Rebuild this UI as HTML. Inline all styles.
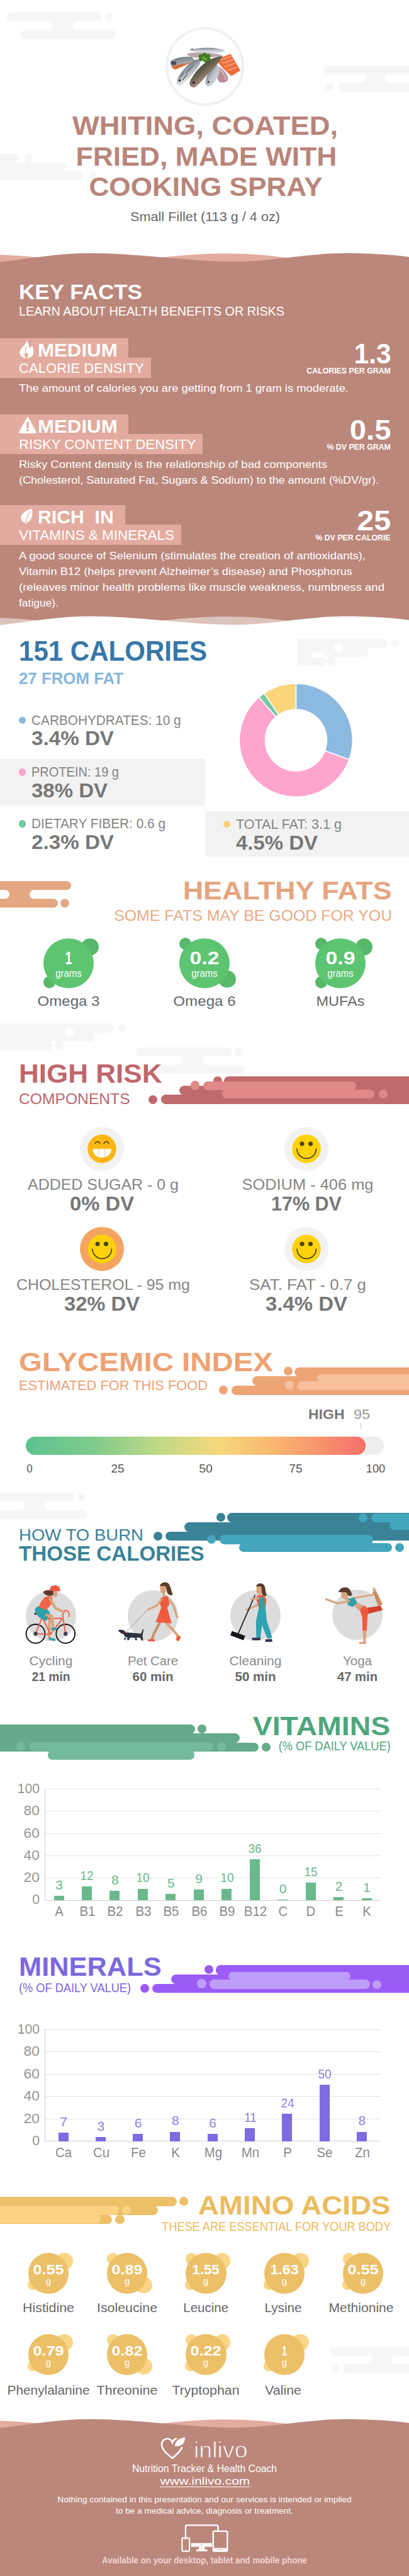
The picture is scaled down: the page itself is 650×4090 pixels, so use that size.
<!DOCTYPE html>
<html><head><meta charset="utf-8"><title>Whiting infographic</title>
<style>
html,body{margin:0;padding:0;background:#fff;}
body{width:650px;height:4090px;font-family:"Liberation Sans",sans-serif;}
#pg{position:relative;width:650px;height:4090px;overflow:hidden;background:#fff;}
.t{position:absolute;white-space:nowrap;}
.b{position:absolute;}
</style></head><body><div id="pg">
<svg class="b" style="left:0px;top:20.4px;" width="650" height="43" viewBox="0 0 650 43"><rect x="10.8" y="0.0" width="150.6" height="14.0" rx="6.8" fill="#f6f6f6"/><rect x="32.3" y="27.4" width="151.7" height="14.0" rx="6.8" fill="#f6f6f6"/><path d="M76.6,13.2 A6.8,7.3 0 0 1 76.6,27.9 L122.5,27.9 A6.8,7.3 0 0 1 122.5,13.2Z" fill="#f6f6f6"/><circle cx="173.2" cy="6.8" r="6.5" fill="#f6f6f6"/></svg>
<svg class="b" style="left:0px;top:104.2px;" width="650" height="43" viewBox="0 0 650 43"><rect x="514.5" y="0.0" width="185.5" height="14.0" rx="6.8" fill="#f6f6f6"/><rect x="536.5" y="27.4" width="163.5" height="14.0" rx="6.8" fill="#f6f6f6"/><path d="M574.9,13.2 A6.8,7.3 0 0 1 574.9,27.9 L618.6,27.9 A6.8,7.3 0 0 1 618.6,13.2Z" fill="#f6f6f6"/><circle cx="523.6" cy="34.2" r="6.5" fill="#f6f6f6"/></svg>
<svg class="b" style="left:0px;top:244px;" width="650" height="43" viewBox="0 0 650 43"><rect x="-20.0" y="0.0" width="49.6" height="14.0" rx="6.8" fill="#f6f6f6"/><rect x="-20.0" y="13.7" width="125.0" height="14.0" rx="6.8" fill="#f6f6f6"/><rect x="-20.0" y="27.4" width="150.7" height="14.0" rx="6.8" fill="#f6f6f6"/><circle cx="45.7" cy="6.8" r="6.5" fill="#f6f6f6"/><circle cx="148.0" cy="34.2" r="6.5" fill="#f6f6f6"/></svg>
<div class="b" style="left:262.6px;top:42.8px;width:125.2px;height:125.2px;background:#f0f0f0;border-radius:50%;"></div>
<div class="b" style="left:266.8px;top:47.0px;width:116.8px;height:116.8px;background:#ffffff;border-radius:50%;"></div>
<svg class="b" style="left:265px;top:65px" width="120" height="85.1" viewBox="0 0 409 290">
<defs>
<linearGradient id="fa" x1="0" y1="0" x2="0" y2="1"><stop offset="0" stop-color="#7b8792"/><stop offset="0.5" stop-color="#c5ccd2"/><stop offset="1" stop-color="#f2f3f4"/></linearGradient>
<linearGradient id="fb" x1="0.2" y1="0" x2="0.8" y2="1"><stop offset="0" stop-color="#3e444b"/><stop offset="0.35" stop-color="#8b939b"/><stop offset="0.7" stop-color="#e4e7ea"/><stop offset="1" stop-color="#f4f4f4"/></linearGradient>
<linearGradient id="fc" x1="0.1" y1="0" x2="0.9" y2="1"><stop offset="0" stop-color="#2c2b22"/><stop offset="0.4" stop-color="#5d5a47"/><stop offset="0.7" stop-color="#b79488"/><stop offset="1" stop-color="#2f3030"/></linearGradient>
<linearGradient id="fd" x1="0" y1="0" x2="0.3" y2="1"><stop offset="0" stop-color="#6a7077"/><stop offset="0.6" stop-color="#a3a8ad"/><stop offset="0.72" stop-color="#d9653a"/><stop offset="1" stop-color="#e5774a"/></linearGradient>
<linearGradient id="fe" x1="0" y1="0" x2="1" y2="1"><stop offset="0" stop-color="#32373e"/><stop offset="0.5" stop-color="#b9bfc6"/><stop offset="1" stop-color="#eceef0"/></linearGradient>
</defs>
<path d="M125 48 C170 34 260 30 318 52 C300 68 230 72 180 66 C160 64 140 58 125 48Z" fill="url(#fa)"/>
<path d="M125 48 L138 40 L150 50Z" fill="#6b7680"/>
<path d="M108 70 C150 58 240 62 302 76 C270 92 170 94 140 88 C125 84 112 78 108 70Z" fill="#b7a3a6"/>
<path d="M18 112 C40 92 90 82 136 86 L152 106 C130 122 80 140 46 156 C30 150 20 134 18 112Z" fill="url(#fd)"/>
<ellipse cx="38" cy="120" rx="14" ry="10" fill="#454a50"/>
<path d="M276 96 L346 70 L399 160 L350 190 L306 150 L282 122Z" fill="#ee6f3d"/>
<path d="M290 104 L350 84 M298 122 L364 100 M312 140 L376 118 M330 160 L388 138" stroke="#f6a27c" stroke-width="6"/>
<path d="M268 138 C300 140 330 180 332 206 C328 226 300 228 284 222 C270 200 262 166 268 138Z" fill="#b98d96"/>
<path d="M280 150 C300 160 318 190 320 210" stroke="#d9c6cb" stroke-width="5" fill="none"/>
<path d="M210 226 C212 190 236 142 264 124 C290 134 290 170 274 196 C262 222 244 246 224 246 C214 242 210 234 210 226Z" fill="url(#fe)"/>
<path d="M124 226 C136 190 180 132 230 104 C260 88 285 82 302 80 C290 112 256 148 226 176 C200 204 176 236 150 252 C134 252 122 242 124 226Z" fill="url(#fc)"/>
<path d="M54 216 C64 180 110 126 152 104 C166 98 178 96 186 98 C186 124 160 160 132 190 C112 214 90 238 70 242 C58 240 52 230 54 216Z" fill="url(#fb)"/>
<path d="M70 200 L92 172 M86 212 L112 180 M104 176 L126 150 M120 160 L146 130" stroke="#555c64" stroke-width="4"/>
<circle cx="70" cy="214" r="6" fill="#1e2226"/><circle cx="146" cy="226" r="6" fill="#15171a"/><circle cx="226" cy="222" r="5" fill="#1e2226"/>
<path d="M176 92 C166 76 182 66 192 76 C194 60 214 58 216 74 C228 64 244 78 232 90 C246 96 238 112 224 106 C218 120 198 118 196 106 C184 112 170 104 176 92Z" fill="#3f7a22"/>
<path d="M190 90 C194 80 206 82 206 92 C216 86 224 96 216 102 C206 108 192 102 190 90Z" fill="#69a53a"/>
</svg>
<div class="t" style="left:-174.0px;width:1000px;text-align:center;transform-origin:50% 0;top:177.9px;font-size:43.0px;line-height:43.0px;color:#b9857a;font-weight:bold;transform:scaleX(1.0537);">WHITING, COATED,</div>
<div class="t" style="left:-172.5px;width:1000px;text-align:center;transform-origin:50% 0;top:226.9px;font-size:43.0px;line-height:43.0px;color:#b9857a;font-weight:bold;transform:scaleX(1.0341);">FRIED, MADE WITH</div>
<div class="t" style="left:-173.5px;width:1000px;text-align:center;transform-origin:50% 0;top:275.4px;font-size:43.0px;line-height:43.0px;color:#b9857a;font-weight:bold;transform:scaleX(1.0260);">COOKING SPRAY</div>
<div class="t" style="left:-174.0px;width:1000px;text-align:center;transform-origin:50% 0;top:334.0px;font-size:20.0px;line-height:20.0px;color:#666666;transform:scaleX(1.0832);">Small Fillet (113 g / 4 oz)</div>
<svg class="b" style="left:0px;top:395px;" width="650" height="30" viewBox="0 0 650 30"><path d="M0,9.5 C30,10.5 50,12.5 75,15 L75,25 L0,25Z M245,15 C290,9.5 330,7.399999999999977 360,7.399999999999977 C400,7.399999999999977 430,10.5 465,15.5 L465,25 L245,25Z" fill="#e3ab9f" fill-opacity="1"/><path d="M0,21 C50,15 95,7 145,7 C220,7 300,20.5 371,20.5 C430,20.5 490,7 548,7 C590,7 625,9.5 650,13 L650,30 L0,30Z" fill="#bb877b"/></svg>
<div class="b" style="left:0.0px;top:420.0px;width:650.0px;height:575.0px;background:#bb877b;"></div>
<div class="t" style="left:30.0px;transform-origin:0 0;top:447.4px;font-size:33.0px;line-height:33.0px;color:#fff;font-weight:bold;transform:scaleX(1.0617);">KEY FACTS</div>
<div class="t" style="left:30.0px;transform-origin:0 0;top:484.2px;font-size:20.5px;line-height:20.5px;color:#fff;transform:scaleX(0.9638);">LEARN ABOUT HEALTH BENEFITS OR RISKS</div>
<div class="b" style="left:0.0px;top:537.0px;width:204.0px;height:32.0px;background:#e3ab9f;"></div>
<div class="b" style="left:0.0px;top:568.0px;width:240.0px;height:31.5px;background:#e3ab9f;"></div>
<svg class="b" style="left:31.3px;top:541.3px" width="23" height="28" viewBox="0 0 23 28"><path d="M11.6,0 C13,3 15,5 15,8.5 C15,10 15.3,11 15.8,11.6 C17,10.5 19.5,9.5 20.4,7.5 C21.5,10.5 22.3,14 22.3,18 C22.3,24 17.5,27.7 11,27.7 C5,27.7 0.5,24 0.5,18.5 C0.5,13 5,10.5 7.5,7 C9,5 10.5,3 11.6,0Z" fill="#fff"/><path d="M11,27.7 C7.5,25.5 7,21 9.5,17.5 C10,20 11.5,21 12.5,19 C14.5,21.5 14.5,25.5 11,27.7Z" fill="#e3ab9f"/><path d="M9.5,17.5 C8.5,14 10,11 12.5,9" stroke="#e3ab9f" stroke-width="1.1" fill="none"/></svg>
<div class="t" style="left:60.3px;transform-origin:0 0;top:541.2px;font-size:29.5px;line-height:29.5px;color:#fff;font-weight:bold;transform:scaleX(1.0591);">MEDIUM</div>
<div class="t" style="left:30.0px;transform-origin:0 0;top:573.9px;font-size:22.5px;line-height:22.5px;color:#fff;transform:scaleX(0.9825);">CALORIE DENSITY</div>
<div class="t" style="right:28.7px;transform-origin:100% 0;top:538.8px;font-size:45.0px;line-height:45.0px;color:#fff;font-weight:bold;transform:scaleX(0.9399);">1.3</div>
<div class="t" style="right:29.5px;transform-origin:100% 0;top:581.5px;font-size:13.0px;line-height:13.0px;color:#fff;font-weight:bold;transform:scaleX(0.9479);">CALORIES PER GRAM</div>
<div class="t" style="left:30.0px;transform-origin:0 0;top:607.5px;font-size:16.5px;line-height:16.5px;color:#fff;transform:scaleX(1.1137);">The amount of calories you are getting from 1 gram is moderate.</div>
<div class="b" style="left:0.0px;top:658.0px;width:204.0px;height:32.0px;background:#e3ab9f;"></div>
<div class="b" style="left:0.0px;top:689.0px;width:322.0px;height:31.5px;background:#e3ab9f;"></div>
<svg class="b" style="left:29.7px;top:662.4px" width="28" height="27" viewBox="0 0 28 27"><path d="M13.9,1.6 L26.3,24.5 L1.5,24.5Z" fill="#fff" stroke="#fff" stroke-width="3" stroke-linejoin="round"/><rect x="12.2" y="7.8" width="3.5" height="10" rx="1" fill="#e3ab9f"/><circle cx="13.9" cy="21" r="1.9" fill="#e3ab9f"/></svg>
<div class="t" style="left:60.3px;transform-origin:0 0;top:662.2px;font-size:29.5px;line-height:29.5px;color:#fff;font-weight:bold;transform:scaleX(1.0591);">MEDIUM</div>
<div class="t" style="left:30.0px;transform-origin:0 0;top:694.9px;font-size:22.5px;line-height:22.5px;color:#fff;transform:scaleX(0.9861);">RISKY CONTENT DENSITY</div>
<div class="t" style="right:28.7px;transform-origin:100% 0;top:659.8px;font-size:45.0px;line-height:45.0px;color:#fff;font-weight:bold;transform:scaleX(1.0518);">0.5</div>
<div class="t" style="right:29.5px;transform-origin:100% 0;top:702.5px;font-size:13.0px;line-height:13.0px;color:#fff;font-weight:bold;transform:scaleX(0.9495);">% DV PER GRAM</div>
<div class="t" style="left:30.0px;transform-origin:0 0;top:728.5px;font-size:16.5px;line-height:16.5px;color:#fff;transform:scaleX(1.1200);">Risky Content density is the relationship of bad components</div>
<div class="t" style="left:30.0px;transform-origin:0 0;top:753.5px;font-size:16.5px;line-height:16.5px;color:#fff;transform:scaleX(1.0923);">(Cholesterol, Saturated Fat, Sugars &amp; Sodium) to the amount (%DV/gr).</div>
<div class="b" style="left:0.0px;top:802.0px;width:199.0px;height:32.0px;background:#e3ab9f;"></div>
<div class="b" style="left:0.0px;top:833.0px;width:288.0px;height:31.5px;background:#e3ab9f;"></div>
<svg class="b" style="left:32.9px;top:807.1px" width="20" height="26" viewBox="0 0 20 26"><path d="M17.2,0.8 C19.5,6 19,13 15.5,18 C13.5,21 11,22.5 9.3,23 L8.6,25.4 L7,25 L7.6,22.8 C4,22.5 0.8,20 0.3,15.5 C0,9 8,3 17.2,0.8Z" fill="#fff"/><path d="M8,23.5 C9,16 11.5,10 14.8,5" stroke="#e3ab9f" stroke-width="1.3" fill="none"/></svg>
<div class="t" style="left:60.3px;transform-origin:0 0;top:806.2px;font-size:29.5px;line-height:29.5px;color:#fff;font-weight:bold;transform:scaleX(1.0229);">RICH&nbsp; IN</div>
<div class="t" style="left:30.0px;transform-origin:0 0;top:838.9px;font-size:22.5px;line-height:22.5px;color:#fff;">VITAMINS &amp; MINERALS</div>
<div class="t" style="right:28.7px;transform-origin:100% 0;top:803.8px;font-size:45.0px;line-height:45.0px;color:#fff;font-weight:bold;transform:scaleX(1.0748);">25</div>
<div class="t" style="right:29.5px;transform-origin:100% 0;top:846.5px;font-size:13.0px;line-height:13.0px;color:#fff;font-weight:bold;transform:scaleX(0.9508);">% DV PER CALORIE</div>
<div class="t" style="left:30.0px;transform-origin:0 0;top:873.5px;font-size:16.5px;line-height:16.5px;color:#fff;transform:scaleX(1.1166);">A good source of Selenium (stimulates the creation of antioxidants),</div>
<div class="t" style="left:30.0px;transform-origin:0 0;top:898.5px;font-size:16.5px;line-height:16.5px;color:#fff;transform:scaleX(1.1070);">Vitamin B12 (helps prevent Alzheimer’s disease) and Phosphorus</div>
<div class="t" style="left:30.0px;transform-origin:0 0;top:923.5px;font-size:16.5px;line-height:16.5px;color:#fff;transform:scaleX(1.1232);">(releaves minor health problems like muscle weakness, numbness and</div>
<div class="t" style="left:30.0px;transform-origin:0 0;top:948.5px;font-size:16.5px;line-height:16.5px;color:#fff;transform:scaleX(1.0567);">fatigue).</div>
<svg class="b" style="left:0px;top:970px;" width="650" height="30" viewBox="0 0 650 30"><path d="M0,11.0 C30,12.0 50,14.0 75,16.5 L75,26.5 L0,26.5Z M245,16.5 C290,11.0 330,8.899999999999977 360,8.899999999999977 C400,8.899999999999977 430,12.0 465,17.0 L465,26.5 L245,26.5Z" fill="#ffffff" fill-opacity="0.5"/><path d="M0,22.5 C50,16.5 95,8.5 145,8.5 C220,8.5 300,22.0 371,22.0 C430,22.0 490,8.5 548,8.5 C590,8.5 625,11.0 650,14.5 L650,30 L0,30Z" fill="#ffffff"/></svg>
<svg class="b" style="left:0px;top:1014.2px;" width="650" height="44" viewBox="0 0 650 44"><rect x="473.0" y="0.0" width="142.6" height="14.5" rx="7.1" fill="#f6f6f6"/><rect x="473.0" y="14.2" width="113.0" height="14.5" rx="7.1" fill="#f6f6f6"/><rect x="473.0" y="28.4" width="45.8" height="14.5" rx="7.1" fill="#f6f6f6"/><circle cx="628.0" cy="7.1" r="6.5" fill="#f6f6f6"/><circle cx="526.0" cy="35.5" r="7" fill="#f6f6f6"/><circle cx="537.6" cy="14.2" r="6.5" fill="#fff"/></svg>
<div class="b" style="left:473.0px;top:1014.2px;width:8.0px;height:42.8px;background:#f6f6f6;"></div>
<div class="b" style="left:494.0px;top:1035.5px;width:22.0px;height:8.0px;background:#fff;border-radius:4.0px;"></div>
<div class="t" style="left:30.0px;transform-origin:0 0;top:1013.0px;font-size:43.5px;line-height:43.5px;color:#3877a8;font-weight:bold;transform:scaleX(0.9663);">151 CALORIES</div>
<div class="t" style="left:30.0px;transform-origin:0 0;top:1063.9px;font-size:26.0px;line-height:26.0px;color:#86b7e0;font-weight:bold;transform:scaleX(0.9935);">27 FROM FAT</div>
<div class="b" style="left:0.0px;top:1204.7px;width:326.0px;height:74.0px;background:#f2f2f2;"></div>
<div class="b" style="left:326.0px;top:1288.0px;width:324.0px;height:72.0px;background:#f2f2f2;"></div>
<div class="b" style="left:30.2px;top:1138.0px;width:11.2px;height:11.2px;background:#8bb9e0;border-radius:50%;"></div>
<div class="t" style="left:50.0px;transform-origin:0 0;top:1132.5px;font-size:22.5px;line-height:22.5px;color:#858585;transform:scaleX(0.9239);">CARBOHYDRATES: 10 g</div>
<div class="t" style="left:50.0px;transform-origin:0 0;top:1157.4px;font-size:30.5px;line-height:30.5px;color:#777777;font-weight:bold;transform:scaleX(1.0884);">3.4% DV</div>
<div class="b" style="left:30.2px;top:1220.4px;width:11.2px;height:11.2px;background:#f9a6c9;border-radius:50%;"></div>
<div class="t" style="left:50.0px;transform-origin:0 0;top:1214.9px;font-size:22.5px;line-height:22.5px;color:#858585;transform:scaleX(0.8893);">PROTEIN: 19 g</div>
<div class="t" style="left:50.0px;transform-origin:0 0;top:1239.8px;font-size:30.5px;line-height:30.5px;color:#777777;font-weight:bold;transform:scaleX(1.0814);">38% DV</div>
<div class="b" style="left:30.2px;top:1302.4px;width:11.2px;height:11.2px;background:#6fcb9f;border-radius:50%;"></div>
<div class="t" style="left:50.0px;transform-origin:0 0;top:1296.9px;font-size:22.5px;line-height:22.5px;color:#858585;transform:scaleX(0.9257);">DIETARY FIBER: 0.6 g</div>
<div class="t" style="left:50.0px;transform-origin:0 0;top:1321.8px;font-size:30.5px;line-height:30.5px;color:#777777;font-weight:bold;transform:scaleX(1.0884);">2.3% DV</div>
<div class="b" style="left:355.2px;top:1303.1px;width:11.2px;height:11.2px;background:#fbd27a;border-radius:50%;"></div>
<div class="t" style="left:375.0px;transform-origin:0 0;top:1297.6px;font-size:22.5px;line-height:22.5px;color:#858585;transform:scaleX(0.9573);">TOTAL FAT: 3.1 g</div>
<div class="t" style="left:375.0px;transform-origin:0 0;top:1322.5px;font-size:30.5px;line-height:30.5px;color:#777777;font-weight:bold;transform:scaleX(1.0801);">4.5% DV</div>
<svg class="b" style="left:370px;top:1075px;" width="200" height="200" viewBox="0 0 200 200"><path d="M100.40,10.20 A90,90 0 0 1 184.92,131.12 L146.42,117.03 A49,49 0 0 0 100.40,51.20Z" fill="#8bb9e0" stroke="#fff" stroke-width="1.6" stroke-linejoin="round"/><path d="M184.92,131.12 A90,90 0 1 1 41.67,32.00 L68.43,63.07 A49,49 0 1 0 146.42,117.03Z" fill="#fda5cc" stroke="#fff" stroke-width="1.6" stroke-linejoin="round"/><path d="M41.67,32.00 A90,90 0 0 1 49.91,25.70 L72.91,59.64 A49,49 0 0 0 68.43,63.07Z" fill="#77c9a2" stroke="#fff" stroke-width="1.6" stroke-linejoin="round"/><path d="M49.91,25.70 A90,90 0 0 1 100.40,10.20 L100.40,51.20 A49,49 0 0 0 72.91,59.64Z" fill="#fbd47c" stroke="#fff" stroke-width="1.6" stroke-linejoin="round"/></svg>
<div class="b" style="left:-20.0px;top:1398.6px;width:133.4px;height:14.6px;background:#e3a882;border-radius:7.300000000000068px;"></div>
<div class="b" style="left:-20.0px;top:1426.5px;width:112.0px;height:14.5px;background:#e3a882;border-radius:7.25px;"></div>
<div class="b" style="left:0.0px;top:1405.0px;width:60.0px;height:30.0px;background:#e3a882;"></div>
<div class="b" style="left:-20.0px;top:1412.8px;width:34.7px;height:14.2px;background:#fff;border-radius:7.100000000000023px;"></div>
<div class="b" style="left:46.5px;top:1412.8px;width:93.5px;height:14.2px;background:#fff;border-radius:7.100000000000023px;"></div>
<div class="b" style="left:96.0px;top:1426.7px;width:14.0px;height:14.0px;background:#e3a882;border-radius:50%;"></div>
<div class="t" style="right:27.0px;transform-origin:100% 0;top:1392.7px;font-size:41.5px;line-height:41.5px;color:#e5a57e;font-weight:bold;transform:scaleX(1.0826);">HEALTHY FATS</div>
<div class="t" style="right:27.0px;transform-origin:100% 0;top:1442.2px;font-size:24.5px;line-height:24.5px;color:#e8ab84;transform:scaleX(1.0157);">SOME FATS MAY BE GOOD FOR YOU</div>
<div class="b" style="left:129.4px;top:1489.8px;width:27.2px;height:27.2px;background:#58b86a;border-radius:50%;"></div>
<div class="b" style="left:68.5px;top:1550.1px;width:19.0px;height:19.0px;background:#58b86a;border-radius:50%;"></div>
<div class="b" style="left:69.2px;top:1489.5px;width:79.6px;height:79.6px;background:#5dc471;border-radius:50%;"></div>
<div class="t" style="left:-391.0px;width:1000px;text-align:center;transform-origin:50% 0;top:1505.5px;font-size:30.0px;line-height:30.0px;color:#fff;font-weight:bold;transform:scaleX(0.6593);">1</div>
<div class="t" style="left:-391.0px;width:1000px;text-align:center;transform-origin:50% 0;top:1537.0px;font-size:16.5px;line-height:16.5px;color:#fff;transform:scaleX(0.9031);">grams</div>
<div class="t" style="left:-391.0px;width:1000px;text-align:center;transform-origin:50% 0;top:1578.9px;font-size:22.5px;line-height:22.5px;color:#666;transform:scaleX(1.0697);">Omega 3</div>
<div class="b" style="left:285.1px;top:1489.1px;width:19.0px;height:19.0px;background:#58b86a;border-radius:50%;"></div>
<div class="b" style="left:347.4px;top:1540.9px;width:27.2px;height:27.2px;background:#58b86a;border-radius:50%;"></div>
<div class="b" style="left:285.2px;top:1489.5px;width:79.6px;height:79.6px;background:#5dc471;border-radius:50%;"></div>
<div class="t" style="left:-175.0px;width:1000px;text-align:center;transform-origin:50% 0;top:1505.5px;font-size:30.0px;line-height:30.0px;color:#fff;font-weight:bold;transform:scaleX(1.1270);">0.2</div>
<div class="t" style="left:-175.0px;width:1000px;text-align:center;transform-origin:50% 0;top:1537.0px;font-size:16.5px;line-height:16.5px;color:#fff;transform:scaleX(0.9031);">grams</div>
<div class="t" style="left:-175.0px;width:1000px;text-align:center;transform-origin:50% 0;top:1578.9px;font-size:22.5px;line-height:22.5px;color:#666;transform:scaleX(1.0751);">Omega 6</div>
<div class="b" style="left:564.9px;top:1489.8px;width:27.2px;height:27.2px;background:#58b86a;border-radius:50%;"></div>
<div class="b" style="left:501.3px;top:1489.1px;width:19.0px;height:19.0px;background:#58b86a;border-radius:50%;"></div>
<div class="b" style="left:500.7px;top:1550.1px;width:19.0px;height:19.0px;background:#58b86a;border-radius:50%;"></div>
<div class="b" style="left:501.4px;top:1489.5px;width:79.6px;height:79.6px;background:#5dc471;border-radius:50%;"></div>
<div class="t" style="left:41.2px;width:1000px;text-align:center;transform-origin:50% 0;top:1505.5px;font-size:30.0px;line-height:30.0px;color:#fff;font-weight:bold;transform:scaleX(1.1270);">0.9</div>
<div class="t" style="left:41.2px;width:1000px;text-align:center;transform-origin:50% 0;top:1537.0px;font-size:16.5px;line-height:16.5px;color:#fff;transform:scaleX(0.9031);">grams</div>
<div class="t" style="left:41.2px;width:1000px;text-align:center;transform-origin:50% 0;top:1578.9px;font-size:22.5px;line-height:22.5px;color:#666;transform:scaleX(1.0440);">MUFAs</div>
<svg class="b" style="left:0px;top:1625.4px;" width="650" height="44" viewBox="0 0 650 44"><rect x="-20.0" y="0.0" width="201.0" height="14.4" rx="7.0" fill="#f6f6f6"/><rect x="-20.0" y="14.1" width="171.0" height="14.4" rx="7.0" fill="#f6f6f6"/><rect x="-20.0" y="28.2" width="103.4" height="14.4" rx="7.0" fill="#f6f6f6"/><circle cx="194.7" cy="7.0" r="6.5" fill="#f6f6f6"/><circle cx="94.0" cy="35.2" r="6.8" fill="#f6f6f6"/><circle cx="111.0" cy="14.2" r="6.5" fill="#fff"/></svg>
<svg class="b" style="left:0px;top:1663px;" width="650" height="43" viewBox="0 0 650 43"><rect x="216.0" y="0.0" width="152.0" height="14.0" rx="6.8" fill="#f6f6f6"/><rect x="238.7" y="27.4" width="150.6" height="14.0" rx="6.8" fill="#f6f6f6"/><path d="M283.5,13.2 A6.8,7.3 0 0 1 283.5,27.9 L329.5,27.9 A6.8,7.3 0 0 1 329.5,13.2Z" fill="#f6f6f6"/><circle cx="379.0" cy="6.8" r="6.5" fill="#f6f6f6"/></svg>
<div class="t" style="left:30.0px;transform-origin:0 0;top:1683.0px;font-size:43.0px;line-height:43.0px;color:#c0666b;font-weight:bold;transform:scaleX(1.0239);">HIGH RISK</div>
<div class="t" style="left:30.0px;transform-origin:0 0;top:1733.2px;font-size:24.0px;line-height:24.0px;color:#c0666b;transform:scaleX(1.0267);">COMPONENTS</div>
<div class="b" style="left:355.7px;top:1709.0px;width:344.3px;height:15.1px;background:#c06a6c;border-radius:7.5499999999999545px;"></div>
<div class="b" style="left:285.0px;top:1723.6px;width:415.0px;height:15.1px;background:#c06a6c;border-radius:7.550000000000068px;"></div>
<div class="b" style="left:256.2px;top:1738.2px;width:443.8px;height:14.6px;background:#c06a6c;border-radius:7.2999999999999545px;"></div>
<div class="b" style="left:365.7px;top:1709.0px;width:284.3px;height:43.8px;background:#c06a6c;"></div>
<div class="b" style="left:236.3px;top:1738.5px;width:14.0px;height:14.0px;background:#c06a6c;border-radius:50%;"></div>
<div class="b" style="left:338.5px;top:1708.6px;width:14.0px;height:14.0px;background:#c06a6c;border-radius:50%;"></div>
<div class="b" style="left:302.6px;top:1716.2px;width:14.8px;height:14.8px;background:#e18888;border-radius:50%;"></div>
<div class="b" style="left:323.0px;top:1717.0px;width:243.0px;height:13.9px;background:#e18888;border-radius:6.935000000000059px;"></div>
<div class="b" style="left:353.0px;top:1730.2px;width:242.0px;height:13.9px;background:#e18888;border-radius:6.934999999999945px;"></div>
<div class="b" style="left:602.0px;top:1730.1px;width:14.0px;height:14.0px;background:#e18888;border-radius:50%;"></div>
<div class="b" style="left:127.0px;top:1788.5px;width:70.0px;height:70.0px;background:#f2f2f2;border-radius:50%;"></div>
<svg class="b" style="left:138px;top:1799.5px" width="48" height="48" viewBox="-24 -24 48 48"><circle cx="0" cy="0" r="22.8" fill="#fdb714"/><path d="M-14.6,0.3 H14.8 C14.8,8.5 8.5,14 0,14 C-8.5,14 -14.6,8.5 -14.6,0.3Z" fill="#fff"/><path d="M-5.2,0.5 V13.3 M5,0.5 V13.3" stroke="#c9c9c9" stroke-width="1.1"/><path d="M-11,-8.5 Q-7,-14.5 -3,-8.5 M3,-8.5 Q7,-14.5 11,-8.5" stroke="#5a3a1a" stroke-width="1.5" fill="none" stroke-linecap="round"/></svg>
<div class="t" style="left:-336.5px;width:1000px;text-align:center;transform-origin:50% 0;top:1869.1px;font-size:24.0px;line-height:24.0px;color:#858585;transform:scaleX(1.0402);">ADDED SUGAR - 0 g</div>
<div class="t" style="left:-338.0px;width:1000px;text-align:center;transform-origin:50% 0;top:1896.2px;font-size:31.0px;line-height:31.0px;color:#777777;font-weight:bold;transform:scaleX(1.0572);">0% DV</div>
<div class="b" style="left:452.0px;top:1788.5px;width:70.0px;height:70.0px;background:#f2f2f2;border-radius:50%;"></div>
<svg class="b" style="left:463px;top:1799.5px" width="48" height="48" viewBox="-24 -24 48 48"><circle cx="0" cy="0" r="22.8" fill="#fdd20a"/><circle cx="-7" cy="-8" r="3.5" fill="#4a4220"/><circle cx="6.5" cy="-8" r="3.5" fill="#4a4220"/><path d="M-15,0.2 A15.2,15.2 0 0 0 15.4,0.2" stroke="#4a4220" stroke-width="1.7" fill="none" stroke-linecap="round"/></svg>
<div class="t" style="left:-11.5px;width:1000px;text-align:center;transform-origin:50% 0;top:1869.1px;font-size:24.0px;line-height:24.0px;color:#858585;transform:scaleX(1.0589);">SODIUM - 406 mg</div>
<div class="t" style="left:-13.0px;width:1000px;text-align:center;transform-origin:50% 0;top:1896.2px;font-size:31.0px;line-height:31.0px;color:#777777;font-weight:bold;transform:scaleX(0.9848);">17% DV</div>
<div class="b" style="left:127.0px;top:1947.5px;width:70.0px;height:70.0px;background:#f4a460;border-radius:50%;"></div>
<svg class="b" style="left:138px;top:1958.5px" width="48" height="48" viewBox="-24 -24 48 48"><circle cx="0" cy="0" r="22.8" fill="#fdd20a"/><circle cx="-7" cy="-8" r="3.5" fill="#4a4220"/><circle cx="6.5" cy="-8" r="3.5" fill="#4a4220"/><path d="M-15,0.2 A15.2,15.2 0 0 0 15.4,0.2" stroke="#4a4220" stroke-width="1.7" fill="none" stroke-linecap="round"/></svg>
<div class="t" style="left:-336.5px;width:1000px;text-align:center;transform-origin:50% 0;top:2028.1px;font-size:24.0px;line-height:24.0px;color:#858585;transform:scaleX(1.0381);">CHOLESTEROL - 95 mg</div>
<div class="t" style="left:-338.0px;width:1000px;text-align:center;transform-origin:50% 0;top:2055.2px;font-size:31.0px;line-height:31.0px;color:#777777;font-weight:bold;transform:scaleX(1.0552);">32% DV</div>
<div class="b" style="left:452.0px;top:1947.5px;width:70.0px;height:70.0px;background:#f2f2f2;border-radius:50%;"></div>
<svg class="b" style="left:463px;top:1958.5px" width="48" height="48" viewBox="-24 -24 48 48"><circle cx="0" cy="0" r="22.8" fill="#fdd20a"/><circle cx="-7" cy="-8" r="3.5" fill="#4a4220"/><circle cx="6.5" cy="-8" r="3.5" fill="#4a4220"/><path d="M-15,0.2 A15.2,15.2 0 0 0 15.4,0.2" stroke="#4a4220" stroke-width="1.7" fill="none" stroke-linecap="round"/></svg>
<div class="t" style="left:-11.5px;width:1000px;text-align:center;transform-origin:50% 0;top:2028.1px;font-size:24.0px;line-height:24.0px;color:#858585;transform:scaleX(1.0810);">SAT. FAT - 0.7 g</div>
<div class="t" style="left:-13.0px;width:1000px;text-align:center;transform-origin:50% 0;top:2055.2px;font-size:31.0px;line-height:31.0px;color:#777777;font-weight:bold;transform:scaleX(1.0626);">3.4% DV</div>
<div class="t" style="left:30.0px;transform-origin:0 0;top:2141.4px;font-size:43.0px;line-height:43.0px;color:#eea273;font-weight:bold;transform:scaleX(1.1027);">GLYCEMIC INDEX</div>
<div class="t" style="left:30.0px;transform-origin:0 0;top:2188.9px;font-size:22.5px;line-height:22.5px;color:#eea273;transform:scaleX(0.9703);">ESTIMATED FOR THIS FOOD</div>
<div class="b" style="left:468.4px;top:2170.5px;width:231.6px;height:15.2px;background:#eea576;border-radius:7.599999999999909px;"></div>
<div class="b" style="left:401.0px;top:2185.2px;width:299.0px;height:15.2px;background:#eea576;border-radius:7.600000000000136px;"></div>
<div class="b" style="left:368.0px;top:2199.9px;width:332.0px;height:14.7px;background:#eea576;border-radius:7.349999999999909px;"></div>
<div class="b" style="left:478.4px;top:2170.5px;width:171.6px;height:44.1px;background:#eea576;"></div>
<div class="b" style="left:348.4px;top:2200.2px;width:14.0px;height:14.0px;background:#eea576;border-radius:50%;"></div>
<div class="b" style="left:451.0px;top:2170.1px;width:14.0px;height:14.0px;background:#eea576;border-radius:50%;"></div>
<div class="b" style="left:452.6px;top:2191.8px;width:14.8px;height:14.8px;background:#f7c09e;border-radius:50%;"></div>
<div class="b" style="left:503.6px;top:2182.0px;width:196.4px;height:12.3px;background:#f7c09e;border-radius:6.173999999999978px;"></div>
<div class="b" style="left:472.8px;top:2193.3px;width:227.2px;height:14.0px;background:#f7c09e;border-radius:6.982500000000073px;"></div>
<div class="b" style="left:41.0px;top:2281.0px;width:568.5px;height:29.4px;background:#eeeeee;border-radius:14.7px;"></div>
<div class="b" style="left:41.0px;top:2281.0px;width:540.0px;height:29.4px;background:#5ec28e;border-radius:14.7px;background:linear-gradient(90deg,#5cc28f 0%,#7fcb8c 20%,#c3d986 40%,#f6d77b 57%,#f9b26f 75%,#f6786a 97%,#f4706a 100%);"></div>
<div class="t" style="left:-452.8px;width:1000px;text-align:center;transform-origin:50% 0;top:2323.3px;font-size:18.5px;line-height:18.5px;color:#555;transform:scaleX(0.9233);">0</div>
<div class="t" style="left:-313.5px;width:1000px;text-align:center;transform-origin:50% 0;top:2323.3px;font-size:18.5px;line-height:18.5px;color:#555;transform:scaleX(1.0205);">25</div>
<div class="t" style="left:-172.8px;width:1000px;text-align:center;transform-origin:50% 0;top:2323.3px;font-size:18.5px;line-height:18.5px;color:#555;transform:scaleX(1.0448);">50</div>
<div class="t" style="left:-30.5px;width:1000px;text-align:center;transform-origin:50% 0;top:2323.3px;font-size:18.5px;line-height:18.5px;color:#555;transform:scaleX(1.0205);">75</div>
<div class="t" style="left:96.8px;width:1000px;text-align:center;transform-origin:50% 0;top:2323.3px;font-size:18.5px;line-height:18.5px;color:#555;transform:scaleX(0.9881);">100</div>
<div class="t" style="left:490.0px;transform-origin:0 0;top:2234.9px;font-size:22.5px;line-height:22.5px;color:#777777;font-weight:bold;transform:scaleX(1.0222);">HIGH</div>
<div class="t" style="left:561.5px;transform-origin:0 0;top:2235.2px;font-size:22.5px;line-height:22.5px;color:#999;transform:scaleX(1.0388);">95</div>
<div class="b" style="left:573.3px;top:2259.0px;width:1.2px;height:10.0px;background:#c8c8c8;"></div>
<svg class="b" style="left:0px;top:2370.4px;" width="650" height="43" viewBox="0 0 650 43"><rect x="-20.0" y="0.0" width="137.3" height="14.2" rx="7.0" fill="#f6f6f6"/><rect x="-20.0" y="27.8" width="158.8" height="14.2" rx="7.0" fill="#f6f6f6"/><path d="M33.3,13.4 A7.0,7.5 0 0 1 33.3,28.3 L77.0,28.3 A7.0,7.5 0 0 1 77.0,13.4Z" fill="#f6f6f6"/><circle cx="129.0" cy="7.0" r="6.5" fill="#f6f6f6"/></svg>
<div class="t" style="left:30.0px;transform-origin:0 0;top:2423.9px;font-size:26.0px;line-height:26.0px;color:#3a8296;transform:scaleX(1.0598);">HOW TO BURN</div>
<div class="t" style="left:30.0px;transform-origin:0 0;top:2449.1px;font-size:34.0px;line-height:34.0px;color:#3a8296;font-weight:bold;transform:scaleX(0.9743);">THOSE CALORIES</div>
<div class="b" style="left:361.0px;top:2401.8px;width:339.0px;height:15.4px;background:#3a8296;border-radius:7.7000000000000455px;"></div>
<div class="b" style="left:292.6px;top:2416.7px;width:407.4px;height:15.4px;background:#3a8296;border-radius:7.7000000000000455px;"></div>
<div class="b" style="left:263.0px;top:2431.6px;width:437.0px;height:14.9px;background:#3a8296;border-radius:7.449999999999818px;"></div>
<div class="b" style="left:371.0px;top:2401.8px;width:280.0px;height:44.7px;background:#3a8296;"></div>
<div class="b" style="left:243.7px;top:2431.8px;width:14.0px;height:14.0px;background:#3a8296;border-radius:50%;"></div>
<div class="b" style="left:343.7px;top:2401.8px;width:14.0px;height:14.0px;background:#3a8296;border-radius:50%;"></div>
<div class="b" style="left:328.7px;top:2437.4px;width:14.0px;height:14.0px;background:#43a6bd;border-radius:50%;"></div>
<div class="b" style="left:349.0px;top:2437.3px;width:243.5px;height:14.7px;background:#43a6bd;border-radius:7.349999999999909px;"></div>
<div class="b" style="left:380.0px;top:2450.3px;width:242.6px;height:14.2px;background:#43a6bd;border-radius:7.099999999999909px;"></div>
<div class="b" style="left:628.0px;top:2450.3px;width:14.0px;height:14.0px;background:#43a6bd;border-radius:50%;"></div>
<div class="b" style="left:569.9px;top:2403.0px;width:14.0px;height:14.0px;background:#43a6bd;border-radius:50%;"></div>
<div class="b" style="left:589.8px;top:2403.0px;width:110.2px;height:14.0px;background:#43a6bd;border-radius:7.0px;"></div>
<div class="b" style="left:619.4px;top:2414.5px;width:80.6px;height:14.2px;background:#43a6bd;border-radius:7.099999999999909px;"></div>
<div class="b" style="left:630.0px;top:2410.0px;width:20.0px;height:10.0px;background:#43a6bd;"></div>
<div class="b" style="left:40.7px;top:2525.7px;width:80.4px;height:80.4px;background:#dcdcdc;border-radius:50%;"></div>
<svg class="b" style="left:20px;top:2505px" width="130" height="120" viewBox="0 0 409 377.5">
<circle cx="115" cy="280" r="47" fill="none" stroke="#16161a" stroke-width="6"/><circle cx="265" cy="280" r="47" fill="none" stroke="#16161a" stroke-width="6"/>
<path d="M185 195 L182 300" stroke="#d8a37d" stroke-width="13" stroke-linecap="round"/>
<rect x="182" y="298" width="34" height="12" rx="5" fill="#2f9fa8" transform="rotate(12 182 298)"/>
<path d="M115 280 L148 198 M115 280 L190 282 L150 202 M152 206 L245 202 M190 282 L246 208 M250 186 L265 280" stroke="#e8604c" stroke-width="6" fill="none" stroke-linecap="round"/>
<path d="M250 188 L258 166 C272 158 286 170 282 194" stroke="#e8604c" stroke-width="6" fill="none" stroke-linecap="round"/>
<rect x="108" y="176" width="46" height="8" rx="4" fill="#16161a"/>
<circle cx="115" cy="280" r="10" fill="#3d4450"/><circle cx="265" cy="280" r="10" fill="#3d4450"/>
<path d="M112 160 C112 146 130 138 160 140 L188 176 L168 216 L142 204 C128 196 112 180 112 160Z" fill="#2f9fa8"/>
<path d="M170 186 L196 192 L204 256" stroke="#d8a37d" stroke-width="14" fill="none" stroke-linecap="round" stroke-linejoin="round"/>
<rect x="192" y="250" width="30" height="12" rx="5" fill="#2f9fa8"/>
<path d="M158 100 C168 92 186 90 198 96 L202 124 L168 162 L132 146 C136 128 146 112 158 100Z" fill="#f0664a"/>
<path d="M188 106 L214 152 L258 172" stroke="#d8a37d" stroke-width="13" fill="none" stroke-linecap="round" stroke-linejoin="round"/>
<path d="M152 72 C160 60 190 58 206 66 L206 86 C190 96 166 92 152 72Z" fill="#5b3b2e"/>
<path d="M204 66 L222 68 L224 90 L212 98 L202 92Z" fill="#d8a37d"/>
<path d="M184 66 C184 46 200 36 216 38 C230 40 240 52 238 68Z" fill="#ee5a40"/>
</svg>
<div class="t" style="left:-419.0px;width:1000px;text-align:center;transform-origin:50% 0;top:2627.1px;font-size:20.5px;line-height:20.5px;color:#8a8a8a;transform:scaleX(1.0265);">Cycling</div>
<div class="t" style="left:-419.0px;width:1000px;text-align:center;transform-origin:50% 0;top:2651.6px;font-size:20.5px;line-height:20.5px;color:#666;font-weight:bold;transform:scaleX(0.9393);">21 min</div>
<div class="b" style="left:202.9px;top:2525.2px;width:80.4px;height:80.4px;background:#dcdcdc;border-radius:50%;"></div>
<svg class="b" style="left:180px;top:2505px" width="130" height="120" viewBox="0 0 409 377.5">
<path d="M66 272 L172 158" stroke="#777" stroke-width="2"/>
<path d="M272 100 L300 136 L320 198" stroke="#d8a37d" stroke-width="10" fill="none" stroke-linecap="round" stroke-linejoin="round"/>
<path d="M266 226 L300 262 L328 296" stroke="#d8a37d" stroke-width="13" fill="none" stroke-linecap="round" stroke-linejoin="round"/>
<path d="M234 222 L212 262 L192 308" stroke="#c8906a" stroke-width="13" fill="none" stroke-linecap="round" stroke-linejoin="round"/>
<path d="M172 308 L206 306 L208 318 L174 318Z" fill="#ee5a40"/><path d="M318 290 L340 296 L326 318 L314 312Z" fill="#ee5a40"/>
<path d="M238 100 L270 90 L282 130 L270 150 L292 228 L212 222 L240 150 L232 124Z" fill="#ef5b3e"/>
<path d="M242 108 L216 140 L176 158" stroke="#d8a37d" stroke-width="10" fill="none" stroke-linecap="round" stroke-linejoin="round"/>
<rect x="247" y="70" width="12" height="26" fill="#d8a37d"/>
<path d="M234 42 L262 40 L264 70 L250 80 L236 70Z" fill="#d8a37d"/>
<path d="M232 42 C236 26 256 18 272 26 C286 34 288 60 298 86 C288 90 276 86 270 76 C266 64 266 50 260 42Z" fill="#5b3b2e"/>
<path d="M24 262 C36 256 56 260 62 272 C90 276 120 276 138 280 L148 256 L152 258 L146 290 L150 314 L142 314 L134 300 L84 300 L78 312 L70 312 L70 298 C58 296 54 290 52 282 C42 280 30 274 24 262Z" fill="#2a3242"/>
<path d="M108 300 L116 300 L120 312 L110 312Z M56 300 L64 298 L62 310 L54 310Z" fill="#2a3242"/>
<circle cx="64" cy="273" r="4" fill="#ee5a40"/>
</svg>
<div class="t" style="left:-257.0px;width:1000px;text-align:center;transform-origin:50% 0;top:2627.1px;font-size:20.5px;line-height:20.5px;color:#8a8a8a;transform:scaleX(0.9889);">Pet Care</div>
<div class="t" style="left:-257.0px;width:1000px;text-align:center;transform-origin:50% 0;top:2651.6px;font-size:20.5px;line-height:20.5px;color:#666;font-weight:bold;">60 min</div>
<div class="b" style="left:366.1px;top:2524.6px;width:80.4px;height:80.4px;background:#dcdcdc;border-radius:50%;"></div>
<svg class="b" style="left:340px;top:2505px" width="130" height="120" viewBox="0 0 409 377.5">
<path d="M246 116 L206 142 L162 160" stroke="#d8a37d" stroke-width="10" fill="none" stroke-linecap="round" stroke-linejoin="round"/>
<path d="M224 150 L258 150 L264 215 L292 300 L268 306 L240 236 L233 300 L212 300 L210 220Z" fill="#2fa3b2"/>
<path d="M190 300 L232 300 L232 312 L192 312Z" fill="#2a3242"/><path d="M256 308 L290 306 L292 320 L258 320Z" fill="#2a3242"/>
<path d="M215 88 L250 84 L262 110 L258 152 L225 152 L212 110Z" fill="#ee5a40"/>
<path d="M224 100 L248 95 L257 152 L226 152Z" fill="#2f9fa8"/>
<path d="M205 88 L120 282" stroke="#16161a" stroke-width="5" stroke-linecap="round"/>
<path d="M90 266 L156 290 L148 312 L82 288Z" fill="#16161a"/>
<path d="M224 102 L188 108" stroke="#d8a37d" stroke-width="10" fill="none" stroke-linecap="round"/>
<rect x="224" y="74" width="12" height="16" fill="#d8a37d"/>
<path d="M212 46 L238 44 L240 74 L226 84 L213 72Z" fill="#d8a37d"/>
<path d="M210 44 C214 30 232 24 246 32 C258 40 256 66 264 90 C254 94 244 90 240 78 C238 64 240 52 236 44Z" fill="#5b3b2e"/>
</svg>
<div class="t" style="left:-94.0px;width:1000px;text-align:center;transform-origin:50% 0;top:2627.1px;font-size:20.5px;line-height:20.5px;color:#8a8a8a;transform:scaleX(1.0257);">Cleaning</div>
<div class="t" style="left:-94.0px;width:1000px;text-align:center;transform-origin:50% 0;top:2651.6px;font-size:20.5px;line-height:20.5px;color:#666;font-weight:bold;">50 min</div>
<div class="b" style="left:527.8px;top:2523.8px;width:80.4px;height:80.4px;background:#dcdcdc;border-radius:50%;"></div>
<svg class="b" style="left:500px;top:2505px" width="130" height="120" viewBox="0 0 409 377.5">
<path d="M186 102 L292 86 L298 60" stroke="#d8a37d" stroke-width="9" fill="none" stroke-linecap="round" stroke-linejoin="round"/>
<path d="M318 142 L340 134 L306 62 L292 72Z" fill="#c98a60"/>
<path d="M290 58 L298 48 L310 66 L300 76Z" fill="#d8a37d"/>
<path d="M262 150 L330 140 L340 162 L268 180Z" fill="#d63f28"/>
<path d="M196 140 L216 124 L248 140 L228 168Z" fill="#d8a37d"/>
<path d="M226 160 L250 138 L270 160 L264 200 L260 266 L240 266 L238 200Z" fill="#f05a3c"/>
<path d="M240 264 L259 264 L255 320 L244 320Z" fill="#d8a37d"/><path d="M222 322 L258 318 L258 330 L222 331Z" fill="#d8a37d"/>
<path d="M164 106 L200 100 L213 126 L190 146 L165 136Z" fill="#2f9fa8"/>
<path d="M172 116 L116 128 L58 108" stroke="#d8a37d" stroke-width="10" fill="none" stroke-linecap="round" stroke-linejoin="round"/>
<rect x="152" y="96" width="14" height="14" fill="#d8a37d"/>
<path d="M132 70 L164 68 L166 98 L150 108 L134 98Z" fill="#d8a37d"/>
<path d="M120 72 C124 52 150 42 168 52 C182 62 184 76 188 86 C180 94 170 92 164 84 C162 76 160 72 156 72Z" fill="#5b3b2e"/>
</svg>
<div class="t" style="left:68.0px;width:1000px;text-align:center;transform-origin:50% 0;top:2627.1px;font-size:20.5px;line-height:20.5px;color:#8a8a8a;">Yoga</div>
<div class="t" style="left:68.0px;width:1000px;text-align:center;transform-origin:50% 0;top:2651.6px;font-size:20.5px;line-height:20.5px;color:#666;font-weight:bold;transform:scaleX(0.9855);">47 min</div>
<div class="b" style="left:-20.0px;top:2737.8px;width:330.4px;height:14.9px;background:#65ab89;border-radius:7.4500000000000455px;"></div>
<div class="b" style="left:-20.0px;top:2752.2px;width:401.4px;height:14.9px;background:#65ab89;border-radius:7.4500000000000455px;"></div>
<div class="b" style="left:-20.0px;top:2766.6px;width:431.0px;height:14.4px;background:#65ab89;border-radius:7.199999999999818px;"></div>
<div class="b" style="left:0.0px;top:2737.8px;width:300.0px;height:43.2px;background:#65ab89;"></div>
<div class="b" style="left:314.0px;top:2737.9px;width:14.0px;height:14.0px;background:#65ab89;border-radius:50%;"></div>
<div class="b" style="left:416.3px;top:2766.8px;width:14.0px;height:14.0px;background:#65ab89;border-radius:50%;"></div>
<div class="b" style="left:26.4px;top:2765.9px;width:14.0px;height:14.0px;background:#74bb9a;border-radius:50%;"></div>
<div class="b" style="left:45.7px;top:2765.9px;width:293.7px;height:14.4px;background:#74bb9a;border-radius:7.2000000000000455px;"></div>
<div class="b" style="left:345.3px;top:2765.9px;width:14.0px;height:14.0px;background:#74bb9a;border-radius:50%;"></div>
<div class="b" style="left:76.4px;top:2779.3px;width:232.9px;height:14.4px;background:#74bb9a;border-radius:7.199999999999818px;"></div>
<div class="t" style="right:29.4px;transform-origin:100% 0;top:2719.0px;font-size:43.0px;line-height:43.0px;color:#4fa67c;font-weight:bold;transform:scaleX(1.0808);">VITAMINS</div>
<div class="t" style="right:29.4px;transform-origin:100% 0;top:2763.1px;font-size:19.5px;line-height:19.5px;color:#4fa67c;transform:scaleX(0.9333);">(% OF DAILY VALUE)</div>
<div class="b" style="left:71.5px;top:2840.1px;width:533.5px;height:1.0px;background:#e2e2e2;"></div>
<div class="t" style="right:587.0px;transform-origin:100% 0;top:2829.9px;font-size:21.5px;line-height:21.5px;color:#959595;transform:scaleX(0.9757);">100</div>
<div class="b" style="left:71.5px;top:2875.4px;width:533.5px;height:1.0px;background:#e2e2e2;"></div>
<div class="t" style="right:587.0px;transform-origin:100% 0;top:2865.2px;font-size:21.5px;line-height:21.5px;color:#959595;transform:scaleX(1.0579);">80</div>
<div class="b" style="left:71.5px;top:2910.7px;width:533.5px;height:1.0px;background:#e2e2e2;"></div>
<div class="t" style="right:587.0px;transform-origin:100% 0;top:2900.5px;font-size:21.5px;line-height:21.5px;color:#959595;transform:scaleX(1.0579);">60</div>
<div class="b" style="left:71.5px;top:2945.9px;width:533.5px;height:1.0px;background:#e2e2e2;"></div>
<div class="t" style="right:587.0px;transform-origin:100% 0;top:2935.8px;font-size:21.5px;line-height:21.5px;color:#959595;transform:scaleX(1.0579);">40</div>
<div class="b" style="left:71.5px;top:2981.2px;width:533.5px;height:1.0px;background:#e2e2e2;"></div>
<div class="t" style="right:587.0px;transform-origin:100% 0;top:2971.0px;font-size:21.5px;line-height:21.5px;color:#959595;transform:scaleX(1.0579);">20</div>
<div class="b" style="left:71.5px;top:3016.5px;width:533.5px;height:1.0px;background:#cfcfcf;"></div>
<div class="t" style="right:587.0px;transform-origin:100% 0;top:3006.3px;font-size:21.5px;line-height:21.5px;color:#959595;transform:scaleX(0.9868);">0</div>
<div class="b" style="left:71.0px;top:2840.6px;width:1.0px;height:177.4px;background:#cfcfcf;"></div>
<div class="b" style="left:85.5px;top:3010.3px;width:16.0px;height:6.7px;background:#6ab98c;"></div>
<div class="t" style="left:-406.0px;width:1000px;text-align:center;transform-origin:50% 0;top:2982.1px;font-size:21.0px;line-height:21.0px;color:#6ab98c;">3</div>
<div class="t" style="left:-405.7px;width:1000px;text-align:center;transform-origin:50% 0;top:3025.1px;font-size:21.5px;line-height:21.5px;color:#8a8a8a;transform:scaleX(0.9500);">A</div>
<div class="b" style="left:129.9px;top:2994.9px;width:16.0px;height:22.1px;background:#6ab98c;"></div>
<div class="t" style="left:-361.6px;width:1000px;text-align:center;transform-origin:50% 0;top:2966.8px;font-size:21.0px;line-height:21.0px;color:#6ab98c;transform:scaleX(0.9000);">12</div>
<div class="t" style="left:-361.2px;width:1000px;text-align:center;transform-origin:50% 0;top:3025.1px;font-size:21.5px;line-height:21.5px;color:#8a8a8a;transform:scaleX(0.9500);">B1</div>
<div class="b" style="left:174.4px;top:3002.0px;width:16.0px;height:15.0px;background:#6ab98c;"></div>
<div class="t" style="left:-317.1px;width:1000px;text-align:center;transform-origin:50% 0;top:2973.9px;font-size:21.0px;line-height:21.0px;color:#6ab98c;">8</div>
<div class="t" style="left:-316.8px;width:1000px;text-align:center;transform-origin:50% 0;top:3025.1px;font-size:21.5px;line-height:21.5px;color:#8a8a8a;transform:scaleX(0.9500);">B2</div>
<div class="b" style="left:218.9px;top:2998.5px;width:16.0px;height:18.5px;background:#6ab98c;"></div>
<div class="t" style="left:-272.6px;width:1000px;text-align:center;transform-origin:50% 0;top:2970.3px;font-size:21.0px;line-height:21.0px;color:#6ab98c;transform:scaleX(0.9000);">10</div>
<div class="t" style="left:-272.3px;width:1000px;text-align:center;transform-origin:50% 0;top:3025.1px;font-size:21.5px;line-height:21.5px;color:#8a8a8a;transform:scaleX(0.9500);">B3</div>
<div class="b" style="left:263.3px;top:3007.3px;width:16.0px;height:9.7px;background:#6ab98c;"></div>
<div class="t" style="left:-228.2px;width:1000px;text-align:center;transform-origin:50% 0;top:2979.1px;font-size:21.0px;line-height:21.0px;color:#6ab98c;">5</div>
<div class="t" style="left:-227.9px;width:1000px;text-align:center;transform-origin:50% 0;top:3025.1px;font-size:21.5px;line-height:21.5px;color:#8a8a8a;transform:scaleX(0.9500);">B5</div>
<div class="b" style="left:307.8px;top:3000.2px;width:16.0px;height:16.8px;background:#6ab98c;"></div>
<div class="t" style="left:-183.8px;width:1000px;text-align:center;transform-origin:50% 0;top:2972.1px;font-size:21.0px;line-height:21.0px;color:#6ab98c;">9</div>
<div class="t" style="left:-183.4px;width:1000px;text-align:center;transform-origin:50% 0;top:3025.1px;font-size:21.5px;line-height:21.5px;color:#8a8a8a;transform:scaleX(0.9500);">B6</div>
<div class="b" style="left:352.2px;top:2998.5px;width:16.0px;height:18.5px;background:#6ab98c;"></div>
<div class="t" style="left:-139.3px;width:1000px;text-align:center;transform-origin:50% 0;top:2970.3px;font-size:21.0px;line-height:21.0px;color:#6ab98c;transform:scaleX(0.9000);">10</div>
<div class="t" style="left:-139.0px;width:1000px;text-align:center;transform-origin:50% 0;top:3025.1px;font-size:21.5px;line-height:21.5px;color:#8a8a8a;transform:scaleX(0.9500);">B9</div>
<div class="b" style="left:396.7px;top:2952.1px;width:16.0px;height:64.9px;background:#6ab98c;"></div>
<div class="t" style="left:-94.8px;width:1000px;text-align:center;transform-origin:50% 0;top:2923.9px;font-size:21.0px;line-height:21.0px;color:#6ab98c;transform:scaleX(0.9000);">36</div>
<div class="t" style="left:-94.5px;width:1000px;text-align:center;transform-origin:50% 0;top:3025.1px;font-size:21.5px;line-height:21.5px;color:#8a8a8a;transform:scaleX(0.9500);">B12</div>
<div class="b" style="left:441.1px;top:3015.9px;width:16.0px;height:1.1px;background:#6ab98c;"></div>
<div class="t" style="left:-50.4px;width:1000px;text-align:center;transform-origin:50% 0;top:2987.8px;font-size:21.0px;line-height:21.0px;color:#6ab98c;">0</div>
<div class="t" style="left:-50.1px;width:1000px;text-align:center;transform-origin:50% 0;top:3025.1px;font-size:21.5px;line-height:21.5px;color:#8a8a8a;transform:scaleX(0.9500);">C</div>
<div class="b" style="left:485.6px;top:2989.0px;width:16.0px;height:28.0px;background:#6ab98c;"></div>
<div class="t" style="left:-5.9px;width:1000px;text-align:center;transform-origin:50% 0;top:2960.8px;font-size:21.0px;line-height:21.0px;color:#6ab98c;transform:scaleX(0.9000);">15</div>
<div class="t" style="left:-5.6px;width:1000px;text-align:center;transform-origin:50% 0;top:3025.1px;font-size:21.5px;line-height:21.5px;color:#8a8a8a;transform:scaleX(0.9500);">D</div>
<div class="b" style="left:530.0px;top:3011.7px;width:16.0px;height:5.3px;background:#6ab98c;"></div>
<div class="t" style="left:38.5px;width:1000px;text-align:center;transform-origin:50% 0;top:2983.6px;font-size:21.0px;line-height:21.0px;color:#6ab98c;">2</div>
<div class="t" style="left:38.8px;width:1000px;text-align:center;transform-origin:50% 0;top:3025.1px;font-size:21.5px;line-height:21.5px;color:#8a8a8a;transform:scaleX(0.9500);">E</div>
<div class="b" style="left:574.5px;top:3014.4px;width:16.0px;height:2.6px;background:#6ab98c;"></div>
<div class="t" style="left:83.0px;width:1000px;text-align:center;transform-origin:50% 0;top:2986.2px;font-size:21.0px;line-height:21.0px;color:#6ab98c;">1</div>
<div class="t" style="left:83.2px;width:1000px;text-align:center;transform-origin:50% 0;top:3025.1px;font-size:21.5px;line-height:21.5px;color:#8a8a8a;transform:scaleX(0.9500);">K</div>
<div class="t" style="left:30.0px;transform-origin:0 0;top:3100.8px;font-size:43.0px;line-height:43.0px;color:#7b68dd;font-weight:bold;transform:scaleX(1.0091);">MINERALS</div>
<div class="t" style="left:30.0px;transform-origin:0 0;top:3146.9px;font-size:19.5px;line-height:19.5px;color:#7b68dd;transform:scaleX(0.9333);">(% OF DAILY VALUE)</div>
<div class="b" style="left:342.9px;top:3120.4px;width:357.1px;height:15.2px;background:#9b5cf6;border-radius:7.599999999999909px;"></div>
<div class="b" style="left:271.9px;top:3135.1px;width:428.1px;height:15.2px;background:#9b5cf6;border-radius:7.600000000000136px;"></div>
<div class="b" style="left:242.3px;top:3149.8px;width:457.7px;height:14.7px;background:#9b5cf6;border-radius:7.349999999999909px;"></div>
<div class="b" style="left:352.9px;top:3120.4px;width:297.1px;height:44.1px;background:#9b5cf6;"></div>
<div class="b" style="left:222.9px;top:3150.2px;width:14.0px;height:14.0px;background:#9b5cf6;border-radius:50%;"></div>
<div class="b" style="left:324.6px;top:3120.0px;width:14.0px;height:14.0px;background:#9b5cf6;border-radius:50%;"></div>
<div class="b" style="left:313.4px;top:3142.4px;width:14.8px;height:14.8px;background:#c09cfa;border-radius:50%;"></div>
<div class="b" style="left:363.3px;top:3130.7px;width:194.2px;height:13.5px;background:#c09cfa;border-radius:6.761999999999944px;"></div>
<div class="b" style="left:332.6px;top:3143.2px;width:255.0px;height:14.7px;background:#c09cfa;border-radius:7.350000000000136px;"></div>
<div class="b" style="left:592.4px;top:3143.5px;width:14.0px;height:14.0px;background:#c09cfa;border-radius:50%;"></div>
<div class="b" style="left:71.5px;top:3221.9px;width:533.5px;height:1.0px;background:#e2e2e2;"></div>
<div class="t" style="right:587.0px;transform-origin:100% 0;top:3211.7px;font-size:21.5px;line-height:21.5px;color:#959595;transform:scaleX(0.9757);">100</div>
<div class="b" style="left:71.5px;top:3257.3px;width:533.5px;height:1.0px;background:#e2e2e2;"></div>
<div class="t" style="right:587.0px;transform-origin:100% 0;top:3247.2px;font-size:21.5px;line-height:21.5px;color:#959595;transform:scaleX(1.0579);">80</div>
<div class="b" style="left:71.5px;top:3292.8px;width:533.5px;height:1.0px;background:#e2e2e2;"></div>
<div class="t" style="right:587.0px;transform-origin:100% 0;top:3282.6px;font-size:21.5px;line-height:21.5px;color:#959595;transform:scaleX(1.0579);">60</div>
<div class="b" style="left:71.5px;top:3328.2px;width:533.5px;height:1.0px;background:#e2e2e2;"></div>
<div class="t" style="right:587.0px;transform-origin:100% 0;top:3318.0px;font-size:21.5px;line-height:21.5px;color:#959595;transform:scaleX(1.0579);">40</div>
<div class="b" style="left:71.5px;top:3363.7px;width:533.5px;height:1.0px;background:#e2e2e2;"></div>
<div class="t" style="right:587.0px;transform-origin:100% 0;top:3353.5px;font-size:21.5px;line-height:21.5px;color:#959595;transform:scaleX(1.0579);">20</div>
<div class="b" style="left:71.5px;top:3399.1px;width:533.5px;height:1.0px;background:#cfcfcf;"></div>
<div class="t" style="right:587.0px;transform-origin:100% 0;top:3388.9px;font-size:21.5px;line-height:21.5px;color:#959595;transform:scaleX(0.9868);">0</div>
<div class="b" style="left:71.0px;top:3222.4px;width:1.0px;height:178.2px;background:#cfcfcf;"></div>
<div class="b" style="left:92.5px;top:3386.3px;width:16.0px;height:13.3px;background:#7f6ae0;"></div>
<div class="t" style="left:-399.0px;width:1000px;text-align:center;transform-origin:50% 0;top:3358.2px;font-size:21.0px;line-height:21.0px;color:#8f80e0;">7</div>
<div class="t" style="left:-398.7px;width:1000px;text-align:center;transform-origin:50% 0;top:3407.7px;font-size:21.5px;line-height:21.5px;color:#8a8a8a;transform:scaleX(0.9500);">Ca</div>
<div class="b" style="left:151.8px;top:3392.9px;width:16.0px;height:6.7px;background:#7f6ae0;"></div>
<div class="t" style="left:-339.7px;width:1000px;text-align:center;transform-origin:50% 0;top:3364.7px;font-size:21.0px;line-height:21.0px;color:#8f80e0;">3</div>
<div class="t" style="left:-339.4px;width:1000px;text-align:center;transform-origin:50% 0;top:3407.7px;font-size:21.5px;line-height:21.5px;color:#8a8a8a;transform:scaleX(0.9500);">Cu</div>
<div class="b" style="left:211.1px;top:3388.1px;width:16.0px;height:11.5px;background:#7f6ae0;"></div>
<div class="t" style="left:-280.4px;width:1000px;text-align:center;transform-origin:50% 0;top:3359.9px;font-size:21.0px;line-height:21.0px;color:#8f80e0;">6</div>
<div class="t" style="left:-280.1px;width:1000px;text-align:center;transform-origin:50% 0;top:3407.7px;font-size:21.5px;line-height:21.5px;color:#8a8a8a;transform:scaleX(0.9500);">Fe</div>
<div class="b" style="left:270.4px;top:3384.5px;width:16.0px;height:15.1px;background:#7f6ae0;"></div>
<div class="t" style="left:-221.1px;width:1000px;text-align:center;transform-origin:50% 0;top:3356.4px;font-size:21.0px;line-height:21.0px;color:#8f80e0;">8</div>
<div class="t" style="left:-220.8px;width:1000px;text-align:center;transform-origin:50% 0;top:3407.7px;font-size:21.5px;line-height:21.5px;color:#8a8a8a;transform:scaleX(0.9500);">K</div>
<div class="b" style="left:329.7px;top:3388.1px;width:16.0px;height:11.5px;background:#7f6ae0;"></div>
<div class="t" style="left:-161.8px;width:1000px;text-align:center;transform-origin:50% 0;top:3359.9px;font-size:21.0px;line-height:21.0px;color:#8f80e0;">6</div>
<div class="t" style="left:-161.5px;width:1000px;text-align:center;transform-origin:50% 0;top:3407.7px;font-size:21.5px;line-height:21.5px;color:#8a8a8a;transform:scaleX(0.9500);">Mg</div>
<div class="b" style="left:389.0px;top:3379.2px;width:16.0px;height:20.4px;background:#7f6ae0;"></div>
<div class="t" style="left:-102.5px;width:1000px;text-align:center;transform-origin:50% 0;top:3351.1px;font-size:21.0px;line-height:21.0px;color:#8f80e0;transform:scaleX(0.9000);">11</div>
<div class="t" style="left:-102.2px;width:1000px;text-align:center;transform-origin:50% 0;top:3407.7px;font-size:21.5px;line-height:21.5px;color:#8a8a8a;transform:scaleX(0.9500);">Mn</div>
<div class="b" style="left:448.3px;top:3356.2px;width:16.0px;height:43.4px;background:#7f6ae0;"></div>
<div class="t" style="left:-43.2px;width:1000px;text-align:center;transform-origin:50% 0;top:3328.0px;font-size:21.0px;line-height:21.0px;color:#8f80e0;transform:scaleX(0.9000);">24</div>
<div class="t" style="left:-42.9px;width:1000px;text-align:center;transform-origin:50% 0;top:3407.7px;font-size:21.5px;line-height:21.5px;color:#8a8a8a;transform:scaleX(0.9500);">P</div>
<div class="b" style="left:507.6px;top:3310.1px;width:16.0px;height:89.5px;background:#7f6ae0;"></div>
<div class="t" style="left:16.1px;width:1000px;text-align:center;transform-origin:50% 0;top:3282.0px;font-size:21.0px;line-height:21.0px;color:#8f80e0;transform:scaleX(0.9000);">50</div>
<div class="t" style="left:16.4px;width:1000px;text-align:center;transform-origin:50% 0;top:3407.7px;font-size:21.5px;line-height:21.5px;color:#8a8a8a;transform:scaleX(0.9500);">Se</div>
<div class="b" style="left:566.9px;top:3384.5px;width:16.0px;height:15.1px;background:#7f6ae0;"></div>
<div class="t" style="left:75.4px;width:1000px;text-align:center;transform-origin:50% 0;top:3356.4px;font-size:21.0px;line-height:21.0px;color:#8f80e0;">8</div>
<div class="t" style="left:75.7px;width:1000px;text-align:center;transform-origin:50% 0;top:3407.7px;font-size:21.5px;line-height:21.5px;color:#8a8a8a;transform:scaleX(0.9500);">Zn</div>
<div class="b" style="left:-20.0px;top:3487.7px;width:300.7px;height:14.9px;background:#ecc067;border-radius:7.4500000000000455px;"></div>
<div class="b" style="left:-20.0px;top:3502.1px;width:270.6px;height:14.9px;background:#ecc067;border-radius:7.4500000000000455px;"></div>
<div class="b" style="left:-20.0px;top:3516.5px;width:198.0px;height:14.4px;background:#ecc067;border-radius:7.199999999999818px;"></div>
<div class="b" style="left:0.0px;top:3487.7px;width:170.0px;height:43.2px;background:#ecc067;"></div>
<div class="b" style="left:285.0px;top:3487.8px;width:14.0px;height:14.0px;background:#ecc067;border-radius:50%;"></div>
<div class="b" style="left:183.2px;top:3516.5px;width:14.6px;height:14.6px;background:#ecc067;border-radius:50%;"></div>
<div class="b" style="left:-20.0px;top:3502.3px;width:208.5px;height:14.5px;background:#fbd282;border-radius:7.25px;"></div>
<div class="b" style="left:193.5px;top:3502.3px;width:14.0px;height:14.0px;background:#fbd282;border-radius:50%;"></div>
<div class="b" style="left:-20.0px;top:3515.8px;width:179.8px;height:14.5px;background:#fbd282;border-radius:7.25px;"></div>
<div class="t" style="right:29.4px;transform-origin:100% 0;top:3480.1px;font-size:43.0px;line-height:43.0px;color:#ebbb5e;font-weight:bold;transform:scaleX(1.0631);">AMINO ACIDS</div>
<div class="t" style="right:29.4px;transform-origin:100% 0;top:3524.6px;font-size:20.5px;line-height:20.5px;color:#ebbb5e;transform:scaleX(0.8876);">THESE ARE ESSENTIAL FOR YOUR BODY</div>
<svg class="b" style="left:0px;top:3725.8px;" width="650" height="43" viewBox="0 0 650 43"><rect x="524.0" y="0.0" width="176.0" height="14.1" rx="6.9" fill="#f6f6f6"/><rect x="545.7" y="27.6" width="154.3" height="14.1" rx="6.9" fill="#f6f6f6"/><path d="M584.5,13.3 A6.9,7.4 0 0 1 584.5,28.1 L629.5,28.1 A6.9,7.4 0 0 1 629.5,13.3Z" fill="#f6f6f6"/><circle cx="533.8" cy="34.5" r="6.5" fill="#f6f6f6"/></svg>
<div class="b" style="left:89.3px;top:3576.5px;width:26.4px;height:26.4px;background:#fad586;border-radius:50%;"></div>
<div class="b" style="left:43.9px;top:3618.9px;width:17.6px;height:17.6px;background:#fad586;border-radius:50%;"></div>
<div class="b" style="left:44.6px;top:3576.9px;width:64.8px;height:64.8px;background:#ecc068;border-radius:50%;"></div>
<div class="t" style="left:-423.0px;width:1000px;text-align:center;transform-origin:50% 0;top:3593.3px;font-size:22.0px;line-height:22.0px;color:#fff;font-weight:bold;transform:scaleX(1.1443);">0.55</div>
<div class="t" style="left:-422.8px;width:1000px;text-align:center;transform-origin:50% 0;top:3613.7px;font-size:15.5px;line-height:15.5px;color:#fff;transform:scaleX(0.9744);">g</div>
<div class="t" style="left:-423.0px;width:1000px;text-align:center;transform-origin:50% 0;top:3654.4px;font-size:20.5px;line-height:20.5px;color:#666;transform:scaleX(1.0430);">Histidine</div>
<div class="b" style="left:169.7px;top:3577.0px;width:19.4px;height:19.4px;background:#fad586;border-radius:50%;"></div>
<div class="b" style="left:215.3px;top:3614.6px;width:26.4px;height:26.4px;background:#fad586;border-radius:50%;"></div>
<div class="b" style="left:169.6px;top:3576.9px;width:64.8px;height:64.8px;background:#ecc068;border-radius:50%;"></div>
<div class="t" style="left:-298.0px;width:1000px;text-align:center;transform-origin:50% 0;top:3593.3px;font-size:22.0px;line-height:22.0px;color:#fff;font-weight:bold;transform:scaleX(1.1443);">0.89</div>
<div class="t" style="left:-297.8px;width:1000px;text-align:center;transform-origin:50% 0;top:3613.7px;font-size:15.5px;line-height:15.5px;color:#fff;transform:scaleX(0.9744);">g</div>
<div class="t" style="left:-298.0px;width:1000px;text-align:center;transform-origin:50% 0;top:3654.4px;font-size:20.5px;line-height:20.5px;color:#666;transform:scaleX(1.0399);">Isoleucine</div>
<div class="b" style="left:294.9px;top:3577.0px;width:19.4px;height:19.4px;background:#fad586;border-radius:50%;"></div>
<div class="b" style="left:339.5px;top:3576.5px;width:26.4px;height:26.4px;background:#fad586;border-radius:50%;"></div>
<div class="b" style="left:294.1px;top:3618.9px;width:17.6px;height:17.6px;background:#fad586;border-radius:50%;"></div>
<div class="b" style="left:294.8px;top:3576.9px;width:64.8px;height:64.8px;background:#ecc068;border-radius:50%;"></div>
<div class="t" style="left:-172.8px;width:1000px;text-align:center;transform-origin:50% 0;top:3593.3px;font-size:22.0px;line-height:22.0px;color:#fff;font-weight:bold;transform:scaleX(1.0136);">1.55</div>
<div class="t" style="left:-172.6px;width:1000px;text-align:center;transform-origin:50% 0;top:3613.7px;font-size:15.5px;line-height:15.5px;color:#fff;transform:scaleX(0.9744);">g</div>
<div class="t" style="left:-172.8px;width:1000px;text-align:center;transform-origin:50% 0;top:3654.4px;font-size:20.5px;line-height:20.5px;color:#666;">Leucine</div>
<div class="b" style="left:464.3px;top:3576.5px;width:26.4px;height:26.4px;background:#fad586;border-radius:50%;"></div>
<div class="b" style="left:418.9px;top:3618.9px;width:17.6px;height:17.6px;background:#fad586;border-radius:50%;"></div>
<div class="b" style="left:419.6px;top:3576.9px;width:64.8px;height:64.8px;background:#ecc068;border-radius:50%;"></div>
<div class="t" style="left:-48.0px;width:1000px;text-align:center;transform-origin:50% 0;top:3593.3px;font-size:22.0px;line-height:22.0px;color:#fff;font-weight:bold;transform:scaleX(1.0509);">1.63</div>
<div class="t" style="left:-47.8px;width:1000px;text-align:center;transform-origin:50% 0;top:3613.7px;font-size:15.5px;line-height:15.5px;color:#fff;transform:scaleX(0.9744);">g</div>
<div class="t" style="left:-50.0px;width:1000px;text-align:center;transform-origin:50% 0;top:3654.4px;font-size:20.5px;line-height:20.5px;color:#666;transform:scaleX(1.0086);">Lysine</div>
<div class="b" style="left:544.7px;top:3577.0px;width:19.4px;height:19.4px;background:#fad586;border-radius:50%;"></div>
<div class="b" style="left:543.9px;top:3618.9px;width:17.6px;height:17.6px;background:#fad586;border-radius:50%;"></div>
<div class="b" style="left:544.6px;top:3576.9px;width:64.8px;height:64.8px;background:#ecc068;border-radius:50%;"></div>
<div class="t" style="left:77.0px;width:1000px;text-align:center;transform-origin:50% 0;top:3593.3px;font-size:22.0px;line-height:22.0px;color:#fff;font-weight:bold;transform:scaleX(1.1443);">0.55</div>
<div class="t" style="left:77.2px;width:1000px;text-align:center;transform-origin:50% 0;top:3613.7px;font-size:15.5px;line-height:15.5px;color:#fff;transform:scaleX(0.9744);">g</div>
<div class="t" style="left:74.0px;width:1000px;text-align:center;transform-origin:50% 0;top:3654.4px;font-size:20.5px;line-height:20.5px;color:#666;transform:scaleX(1.0270);">Methionine</div>
<div class="b" style="left:89.3px;top:3705.5px;width:26.4px;height:26.4px;background:#fad586;border-radius:50%;"></div>
<div class="b" style="left:43.9px;top:3747.9px;width:17.6px;height:17.6px;background:#fad586;border-radius:50%;"></div>
<div class="b" style="left:44.6px;top:3705.9px;width:64.8px;height:64.8px;background:#ecc068;border-radius:50%;"></div>
<div class="t" style="left:-423.0px;width:1000px;text-align:center;transform-origin:50% 0;top:3722.3px;font-size:22.0px;line-height:22.0px;color:#fff;font-weight:bold;transform:scaleX(1.1443);">0.79</div>
<div class="t" style="left:-422.8px;width:1000px;text-align:center;transform-origin:50% 0;top:3742.7px;font-size:15.5px;line-height:15.5px;color:#fff;transform:scaleX(0.9744);">g</div>
<div class="t" style="left:-423.0px;width:1000px;text-align:center;transform-origin:50% 0;top:3784.9px;font-size:20.5px;line-height:20.5px;color:#666;transform:scaleX(1.0171);">Phenylalanine</div>
<div class="b" style="left:169.7px;top:3706.0px;width:19.4px;height:19.4px;background:#fad586;border-radius:50%;"></div>
<div class="b" style="left:215.3px;top:3743.6px;width:26.4px;height:26.4px;background:#fad586;border-radius:50%;"></div>
<div class="b" style="left:169.6px;top:3705.9px;width:64.8px;height:64.8px;background:#ecc068;border-radius:50%;"></div>
<div class="t" style="left:-298.0px;width:1000px;text-align:center;transform-origin:50% 0;top:3722.3px;font-size:22.0px;line-height:22.0px;color:#fff;font-weight:bold;transform:scaleX(1.1443);">0.82</div>
<div class="t" style="left:-297.8px;width:1000px;text-align:center;transform-origin:50% 0;top:3742.7px;font-size:15.5px;line-height:15.5px;color:#fff;transform:scaleX(0.9744);">g</div>
<div class="t" style="left:-298.0px;width:1000px;text-align:center;transform-origin:50% 0;top:3784.9px;font-size:20.5px;line-height:20.5px;color:#666;transform:scaleX(1.0508);">Threonine</div>
<div class="b" style="left:294.9px;top:3706.0px;width:19.4px;height:19.4px;background:#fad586;border-radius:50%;"></div>
<div class="b" style="left:339.5px;top:3705.5px;width:26.4px;height:26.4px;background:#fad586;border-radius:50%;"></div>
<div class="b" style="left:294.1px;top:3747.9px;width:17.6px;height:17.6px;background:#fad586;border-radius:50%;"></div>
<div class="b" style="left:294.8px;top:3705.9px;width:64.8px;height:64.8px;background:#ecc068;border-radius:50%;"></div>
<div class="t" style="left:-172.8px;width:1000px;text-align:center;transform-origin:50% 0;top:3722.3px;font-size:22.0px;line-height:22.0px;color:#fff;font-weight:bold;transform:scaleX(1.1443);">0.22</div>
<div class="t" style="left:-172.6px;width:1000px;text-align:center;transform-origin:50% 0;top:3742.7px;font-size:15.5px;line-height:15.5px;color:#fff;transform:scaleX(0.9744);">g</div>
<div class="t" style="left:-172.8px;width:1000px;text-align:center;transform-origin:50% 0;top:3784.9px;font-size:20.5px;line-height:20.5px;color:#666;transform:scaleX(1.0394);">Tryptophan</div>
<div class="b" style="left:464.3px;top:3705.5px;width:26.4px;height:26.4px;background:#fad586;border-radius:50%;"></div>
<div class="b" style="left:418.9px;top:3747.9px;width:17.6px;height:17.6px;background:#fad586;border-radius:50%;"></div>
<div class="b" style="left:419.6px;top:3705.9px;width:64.8px;height:64.8px;background:#ecc068;border-radius:50%;"></div>
<div class="t" style="left:-48.0px;width:1000px;text-align:center;transform-origin:50% 0;top:3722.3px;font-size:22.0px;line-height:22.0px;color:#fff;font-weight:bold;transform:scaleX(0.6947);">1</div>
<div class="t" style="left:-47.8px;width:1000px;text-align:center;transform-origin:50% 0;top:3742.7px;font-size:15.5px;line-height:15.5px;color:#fff;transform:scaleX(0.9744);">g</div>
<div class="t" style="left:-50.0px;width:1000px;text-align:center;transform-origin:50% 0;top:3784.9px;font-size:20.5px;line-height:20.5px;color:#666;transform:scaleX(1.0457);">Valine</div>
<svg class="b" style="left:0px;top:3834px;" width="650" height="30" viewBox="0 0 650 30"><path d="M0,9.5 C30,10.5 50,12.5 75,15 L75,25 L0,25Z M245,15 C290,9.5 330,7.399999999999977 360,7.399999999999977 C400,7.399999999999977 430,10.5 465,15.5 L465,25 L245,25Z" fill="#e3ab9f" fill-opacity="1"/><path d="M0,21 C50,15 95,7 145,7 C220,7 300,20.5 371,20.5 C430,20.5 490,7 548,7 C590,7 625,9.5 650,13 L650,30 L0,30Z" fill="#bb877b"/></svg>
<div class="b" style="left:0.0px;top:3860.0px;width:650.0px;height:232.0px;background:#bb877b;"></div>
<svg class="b" style="left:254px;top:3867px;" width="42" height="40" viewBox="0 0 42 40"><path d="M20 36 C10 28 3 22 3 14 C3 8 8 5 12 5 C16 5 19 8 20 11 C21 8 23 6 26 5" stroke="#fff" stroke-width="2.6" fill="none" stroke-linecap="round"/><path d="M20 36 C27 30 33 25 35 19" stroke="#fff" stroke-width="2.6" fill="none" stroke-linecap="round"/><path d="M24 17 C24 9 30 4 40 3 C40 12 35 18 24 17Z" fill="#fff"/></svg>
<div class="t" style="left:307.5px;transform-origin:0 0;top:3872.8px;font-size:35.5px;line-height:35.5px;color:#fff;transform:scaleX(1.0568);-webkit-text-stroke:0.9px #bb877b;">inlivo</div>
<div class="t" style="left:-175.0px;width:1000px;text-align:center;transform-origin:50% 0;top:3911.7px;font-size:16.0px;line-height:16.0px;color:#fff;transform:scaleX(0.9834);">Nutrition Tracker &amp; Health Coach</div>
<div class="t" style="left:-174.2px;width:1000px;text-align:center;transform-origin:50% 0;top:3930.9px;font-size:17.0px;line-height:17.0px;color:#fff;transform:scaleX(1.2264);">www.inlivo.com</div>
<div class="b" style="left:253.7px;top:3947.6px;width:144.5px;height:1.0px;background:#fff;"></div>
<div class="t" style="left:-175.2px;width:1000px;text-align:center;transform-origin:50% 0;top:3962.0px;font-size:13.5px;line-height:13.5px;color:#fff;transform:scaleX(1.0162);">Nothing contained in this presentation and our services is intended or implied</div>
<div class="t" style="left:-175.0px;width:1000px;text-align:center;transform-origin:50% 0;top:3979.5px;font-size:13.5px;line-height:13.5px;color:#fff;transform:scaleX(1.0102);">to be a medical advice, diagnosis or treatment.</div>
<svg class="b" style="left:265px;top:3995px" width="120" height="90" viewBox="0 0 409 307"><path d="M102 150 V58 Q102 49 111 49 H269 Q278 49 278 58 V150" fill="none" stroke="#fff" stroke-width="8"/><rect x="132" y="146" width="113" height="20" fill="#fff"/><circle cx="188" cy="156" r="3" fill="#bb877b"/><path d="M176 166 H204 L208 180 H172Z" fill="#fff"/><rect x="160" y="180" width="60" height="10" rx="3" fill="#fff"/><rect x="83" y="118" width="40" height="72" rx="6" fill="#bb877b" stroke="#fff" stroke-width="7"/><circle cx="103" cy="182" r="3" fill="#fff"/><rect x="95" y="124" width="16" height="3" fill="#fff"/><rect x="251.5" y="81.500" width="77" height="108" rx="7" fill="#bb877b" stroke="#fff" stroke-width="8"/><rect x="256" y="172" width="68" height="16" fill="#fff"/><circle cx="278" cy="181" r="3" fill="#bb877b"/><circle cx="290" cy="181" r="3" fill="#bb877b"/><circle cx="302" cy="181" r="3" fill="#bb877b"/></svg>
<div class="t" style="left:-175.0px;width:1000px;text-align:center;transform-origin:50% 0;top:4058.1px;font-size:14.0px;line-height:14.0px;color:#f0d5cf;font-weight:bold;transform:scaleX(0.9517);">Available on your desktop, tablet and mobile phone</div>
</div></body></html>
